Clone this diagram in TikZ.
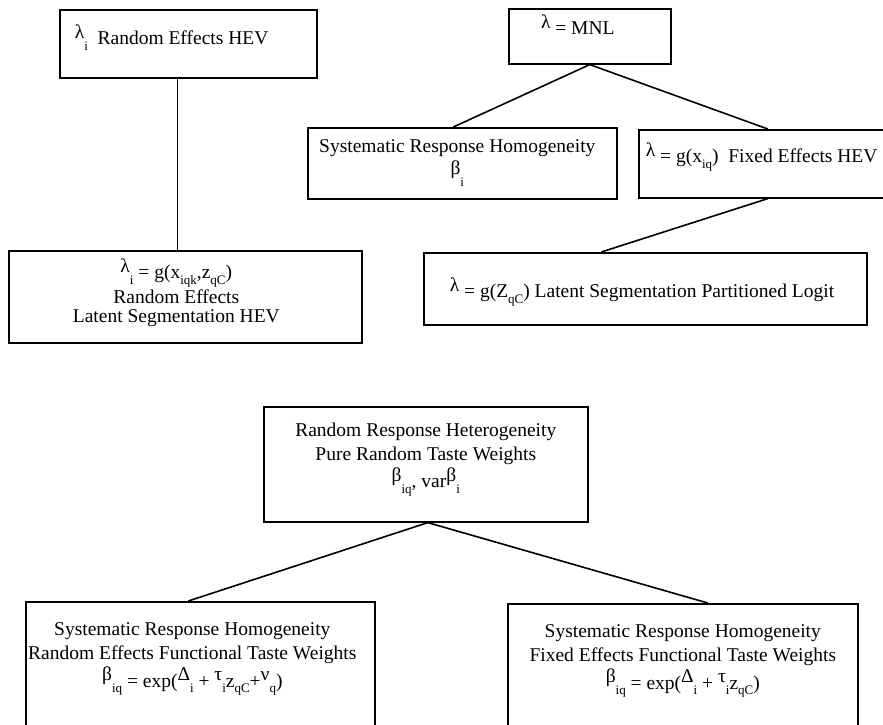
\documentclass[tikz,border=0pt]{standalone}
\usepackage{fontspec}
\setmainfont{Liberation Serif}
\usetikzlibrary{positioning,calc}

% raised greek letter and lowered small index
\newcommand{\gk}[1]{\raisebox{.33em}{#1}}
\newcommand{\lo}[1]{\raisebox{-.3em}{\fontsize{13}{13}\selectfont #1}}

\begin{document}
\begin{tikzpicture}[x=1pt,y=-1pt,line width=1.6pt,
	box/.style={draw, rectangle, anchor=north west, inner sep=0pt},
	txt/.style={align=center, inner sep=0pt, font=\fontsize{19.5}{24}\selectfont}]

	\useasboundingbox (0,0) rectangle (883,724);

	% heterogeneity in the scale
	\node[box, minimum width=257, minimum height=68] (A) at (59,9) {};
	\node[box, minimum width=353, minimum height=92] (C) at (8,250) {};
	\node[box, minimum width=162, minimum height=55] (B) at (508,8) {};
	\node[box, minimum width=309, minimum height=71] (D) at (307,127) {};
	\node[box, minimum width=258, minimum height=68] (E) at (638,129) {};
	\node[box, minimum width=443, minimum height=72] (F) at (423,252) {};

	\node[txt, anchor=north west, below right=15pt and 15pt of A.north west] (A-t)
		{\gk{λ}\lo{i}~ Random Effects HEV};
	\node[txt, anchor=north, below=8pt of C.north, xshift=-9pt] (C-t)
		{\gk{λ}\lo{i} = g(x\lo{iqk},z\lo{qC})\\[1pt]Random Effects\\[-5pt]Latent Segmentation HEV};
	\node[txt, anchor=north, below=6pt of B.north, xshift=-12pt] (B-t) {\gk{λ} = MNL};
	\node[txt, anchor=north, below=12pt of D.north, xshift=-5pt] (D-t)
		{Systematic Response Homogeneity\\[3pt]\gk{β}\lo{i}};
	\node[txt, anchor=north west, below right=13pt and 7pt of E.north west] (E-t)
		{\gk{λ} = g(x\lo{iq})~ Fixed Effects HEV};
	\node[txt, anchor=north west, below right=25pt and 26pt of F.north west] (F-t)
		{\gk{λ} = g(Z\lo{qC}) Latent Segmentation Partitioned Logit};

	\draw ([xshift=-11pt]A.south) -- ([xshift=-11pt]A.south |- C.north);
	\draw (B.south) -- ([xshift=-9pt]D.north);
	\draw (B.south) -- (E.north);
	\draw (E.south) -- ([xshift=-44pt]F.north);

	% heterogeneity in the taste weights
	\node[box, minimum width=324, minimum height=115] (G) at (263,406) {};
	\node[box, minimum width=349, minimum height=140] (H) at (25,601) {};
	\node[box, minimum width=350, minimum height=140] (I) at (507,603) {};

	\node[txt, anchor=north, below=16pt of G.north] (G-t)
		{Random Response Heterogeneity\\Pure Random Taste Weights\\[2pt]\gk{β}\lo{iq}, var\gk{β}\lo{i}};
	\node[txt, anchor=north, below=21pt of H.north, xshift=-8pt] (H-t)
		{Systematic Response Homogeneity\\Random Effects Functional Taste Weights\\[2pt]
		\gk{β}\lo{iq} = exp(\gk{Δ}\lo{i} + \gk{τ}\lo{i}z\lo{qC}+\gk{ν}\lo{q})};
	\node[txt, anchor=north, below=21pt of I.north] (I-t)
		{Systematic Response Homogeneity\\Fixed Effects Functional Taste Weights\\[2pt]
		\gk{β}\lo{iq} = exp(\gk{Δ}\lo{i} + \gk{τ}\lo{i}z\lo{qC})};

	\draw ([xshift=2pt]G.south) -- ([xshift=-12pt]H.north);
	\draw ([xshift=2pt]G.south) -- ([xshift=25pt]I.north);
\end{tikzpicture}
\end{document}
